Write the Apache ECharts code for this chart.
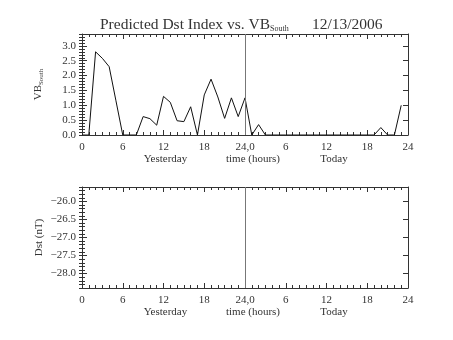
<!DOCTYPE html>
<html>
<head>
<meta charset="utf-8">
<script src="https://cdn.jsdelivr.net/npm/echarts@6/dist/echarts.min.js"></script>
<style>
html,body{margin:0;padding:0;background:#fff;}
#c{width:453px;height:340px;}
</style>
</head>
<body>
<div id="c"></div>
<script>
// ---- data ----
const hours = [0,1,2,3,4,5,6,7,8,9,10,11,12,13,14,15,16,17,18,19,20,21,22,23,
               24,25,26,27,28,29,30,31,32,33,34,35,36,37,38,39,40,41,42,43,44,45,46,47];
const vbSouth = [0,0,2.8,2.58,2.3,1.15,0,0,0,0.62,0.55,0.33,1.3,1.1,0.48,0.45,0.95,0,1.35,1.88,1.28,0.56,1.25,0.62,
                 1.25,0,0.35,0,0,0,0,0,0,0,0,0,0,0,0,0,0,0,0,0,0.25,0,0,1.0];
const dstHours = [];
const dstValues = [];
const xTickValues = [0,6,12,18,24,30,36,42,48];
const xTickLabels = ['0','6','12','18','24,0','6','12','18','24'];
const vbTicks = [0,0.5,1.0,1.5,2.0,2.5,3.0];
const dstTicks = [-28.0,-27.5,-27.0,-26.5,-26.0];
const dayBoundaryHour = 24;
const titleMain = 'Predicted Dst Index vs. VB';
const titleSub = 'South';
const titleDate = '12/13/2006';

const FONT = 'Liberation Serif';
const AX = '#333';
const TXT = '#333';

function xLabel(v){
  const i = xTickValues.indexOf(v);
  let s = i >= 0 ? xTickLabels[i] : '';
  if (v === 12) s += '\n{yd|Yesterday}';
  if (v === 36) s += '\n{td|Today}';
  return s;
}

const grids = [
  {left:82, right:45, top:34, height:101},
  {left:82, right:45, top:187, height:101}
];
const yRanges = [[0,3.4],[-28.4,-25.6]];
const yMajor = [vbTicks, dstTicks];

const xAxes = [], yAxes = [];
grids.forEach((g, gi) => {
  xAxes.push({
    type:'value', gridIndex:gi, min:0, max:48, interval:6, position:'bottom',
    name:'time (hours)', nameLocation:'middle', nameGap:19, nameMoveOverlap:false,
    nameTextStyle:{fontFamily:FONT, fontSize:11, color:TXT, padding:[0,0,0,16]},
    axisLine:{show:true, onZero:false, lineStyle:{color:AX, width:1}},
    axisTick:{show:true, inside:true, length:5, lineStyle:{color:AX}},
    minorTick:{show:true, splitNumber:6, length:3, lineStyle:{color:AX}},
    splitLine:{show:false},
    axisLabel:{show:true, margin:6, fontFamily:FONT, fontSize:11, color:TXT, lineHeight:12,
      formatter: xLabel,
      rich:{yd:{fontFamily:FONT, fontSize:11, color:TXT, lineHeight:12, padding:[0,0,0,4]},
            td:{fontFamily:FONT, fontSize:11, color:TXT, lineHeight:12, padding:[0,0,0,15]}}}
  });
  xAxes.push({
    type:'value', gridIndex:gi, min:0, max:48, interval:6, position:'top',
    axisLine:{show:true, onZero:false, lineStyle:{color:AX, width:1}},
    axisTick:{show:true, inside:true, length:5, lineStyle:{color:AX}},
    minorTick:{show:true, splitNumber:6, length:3, lineStyle:{color:AX}},
    splitLine:{show:false}, axisLabel:{show:false}
  });
  const r = yRanges[gi];
  ['left','right'].forEach(pos => {
    yAxes.push({
      type:'value', gridIndex:gi, min:r[0], max:r[1], position:pos,
      name: pos==='left' ? (gi===0 ? 'VB{sub|South}' : 'Dst (nT)') : '',
      nameLocation:'middle', nameGap:37, nameRotate:90, nameMoveOverlap:false,
      nameTextStyle:{fontFamily:FONT, fontSize:11, color:TXT,
        rich:{sub:{fontFamily:FONT, fontSize:7, color:TXT, verticalAlign:'bottom', padding:[6,0,0,0]}}},
      axisLine:{show:true, onZero:false, lineStyle:{color:AX, width:1}},
      axisTick:{show:true, inside:true, length:5, customValues:yMajor[gi], lineStyle:{color:AX}},
      splitLine:{show:false},
      axisLabel:{show:pos==='left', customValues:yMajor[gi], margin:6, fontFamily:FONT, fontSize:11, color:TXT,
        formatter: v => (v < 0 ? '\u2212' + Math.abs(v).toFixed(1) : v.toFixed(1))}
    });
    yAxes.push({
      type:'value', gridIndex:gi, min:r[0], max:r[1], interval:0.1, position:pos,
      axisLine:{show:false},
      axisTick:{show:true, inside:true, length:3, lineStyle:{color:AX}},
      splitLine:{show:false}, axisLabel:{show:false}
    });
  });
});

const vbData = hours.map((h,i) => [h, vbSouth[i]]);
const dstData = dstHours.map((h,i) => [h, dstValues[i]]);

const markLine = {
  silent:true, symbol:'none', label:{show:false},
  lineStyle:{color:'#777', width:1, type:'solid'},
  data:[{xAxis: dayBoundaryHour}]
};

const option = {
  backgroundColor:'#fff',
  animation:false,
  title:{
    text: titleMain + '{sub|' + titleSub + '}      ' + titleDate,
    left:100, top:16, padding:0,
    textStyle:{fontFamily:FONT, fontSize:15.5, fontWeight:'normal', color:TXT,
      rich:{sub:{fontFamily:FONT, fontSize:8, color:TXT, verticalAlign:'bottom', padding:[9,0,0,0]}}}
  },
  grid: grids,
  xAxis: xAxes,
  yAxis: yAxes,
  series:[
    {type:'line', xAxisIndex:0, yAxisIndex:0, data:vbData, showSymbol:false, symbol:'none',
     lineStyle:{color:'#111', width:1}, markLine: markLine},
    {type:'line', xAxisIndex:2, yAxisIndex:4, data:dstData.length ? dstData : [[null,null]], showSymbol:false, symbol:'none',
     lineStyle:{color:'#111', width:1}, markLine: markLine}
  ]
};
const chart = echarts.init(document.getElementById('c'), null, {renderer:'canvas'});
chart.setOption(option);
</script>
</body>
</html>
